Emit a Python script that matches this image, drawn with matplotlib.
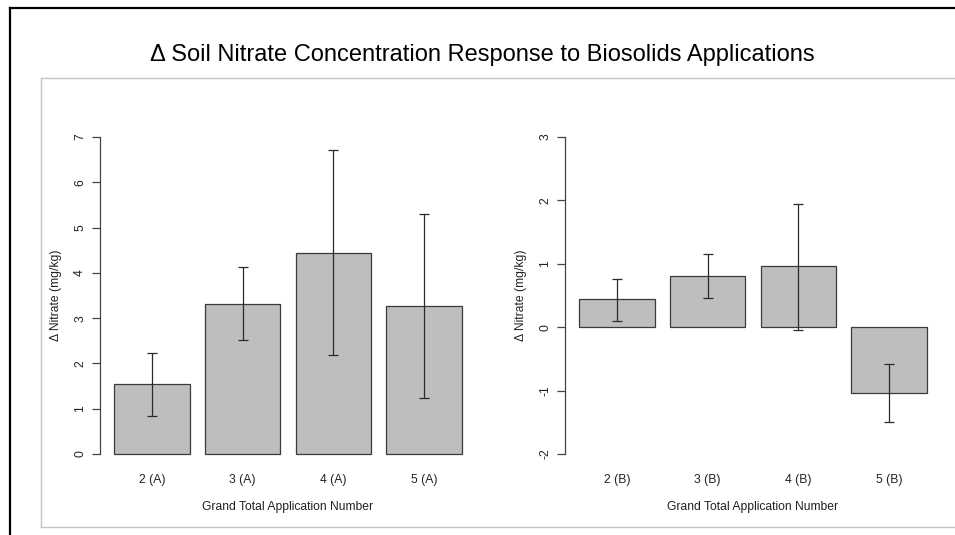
import numpy as np
import matplotlib

matplotlib.use("Agg")
import matplotlib.pyplot as plt
from matplotlib.lines import Line2D

plt.rcParams['font.family'] = ['Liberation Sans', 'DejaVu Sans']

labels_a = ['2 (A)', '3 (A)', '4 (A)', '5 (A)']
means_a = [1.54, 3.32, 4.44, 3.27]
upper_a = [2.22, 4.13, 6.72, 5.31]
lower_a = [0.85, 2.51, 2.18, 1.24]

labels_b = ['2 (B)', '3 (B)', '4 (B)', '5 (B)']
means_b = [0.44, 0.81, 0.96, -1.04]
upper_b = [0.76, 1.16, 1.95, -0.58]
lower_b = [0.105, 0.46, -0.04, -1.50]

W, H = 955, 535
fig = plt.figure(figsize=(W / 100, H / 100), dpi=100)

# outer black frame (top and left) and inner grey panel
fig.add_artist(Line2D([9.5 / W, 9.5 / W], [0, 1 - 8 / H], color='black', lw=1.6))
fig.add_artist(Line2D([9.5 / W, 1], [1 - 8 / H, 1 - 8 / H], color='black', lw=1.6))
fig.add_artist(Line2D([41 / W, 41 / W], [1 - 527 / H, 1 - 78 / H], color='#c4c4c4', lw=1.0))
fig.add_artist(Line2D([41 / W, 1], [1 - 78 / H, 1 - 78 / H], color='#c4c4c4', lw=1.0))
fig.add_artist(Line2D([41 / W, 1], [1 - 527 / H, 1 - 527 / H], color='#c4c4c4', lw=1.0))

fig.text(482 / W, 1 - 55 / H,
         'Δ Soil Nitrate Concentration Response to Biosolids Applications',
         ha='center', va='center', fontsize=17, color='black')


def panel(left_px, labels, means, upper, lower, ylim, ticks):
    ax = fig.add_axes([left_px / W, 1 - 466.7 / H, 376 / W, (466.7 - 124.3) / H])
    x = np.arange(len(labels)) * 1.2 + 0.7
    means = np.array(means)
    err = [means - np.array(lower), np.array(upper) - means]
    ax.bar(x, means, width=1.0, color='#bebebe', edgecolor='#3a3a3a', linewidth=0.9)
    ax.errorbar(x, means, yerr=err, fmt='none', ecolor='#2a2a2a',
                elinewidth=0.9, capsize=3.6, capthick=0.9)
    ax.set_xlim(0.016, 4.984)
    pad = (ylim[1] - ylim[0]) * 0.04
    ax.set_ylim(ylim[0] - pad, ylim[1] + pad)
    for s in ['top', 'right', 'bottom']:
        ax.spines[s].set_visible(False)
    ax.spines['left'].set_bounds(ylim[0], ylim[1])
    ax.spines['left'].set_color('#444444')
    ax.spines['left'].set_linewidth(0.9)
    ax.set_yticks(ticks)
    ax.set_yticklabels([str(t) for t in ticks], rotation=90, va='center')
    ax.tick_params(axis='y', length=6, width=0.9, color='#444444', labelsize=8.7,
                   labelcolor='#222222', pad=4)
    ax.set_xticks(x)
    ax.set_xticklabels(labels)
    ax.tick_params(axis='x', length=0, labelsize=8.7, labelcolor='#222222', pad=5)
    ax.set_xlabel('Grand Total Application Number', fontsize=8.7, color='#222222',
                  labelpad=11)
    ax.set_ylabel('Δ Nitrate (mg/kg)', fontsize=8.7, color='#222222', labelpad=9)
    ax.patch.set_alpha(0)
    return ax


panel(100, labels_a, means_a, upper_a, lower_a, (0, 7), list(range(0, 8)))
panel(565, labels_b, means_b, upper_b, lower_b, (-2, 3), list(range(-2, 4)))

fig.savefig('out.png', dpi=100)
